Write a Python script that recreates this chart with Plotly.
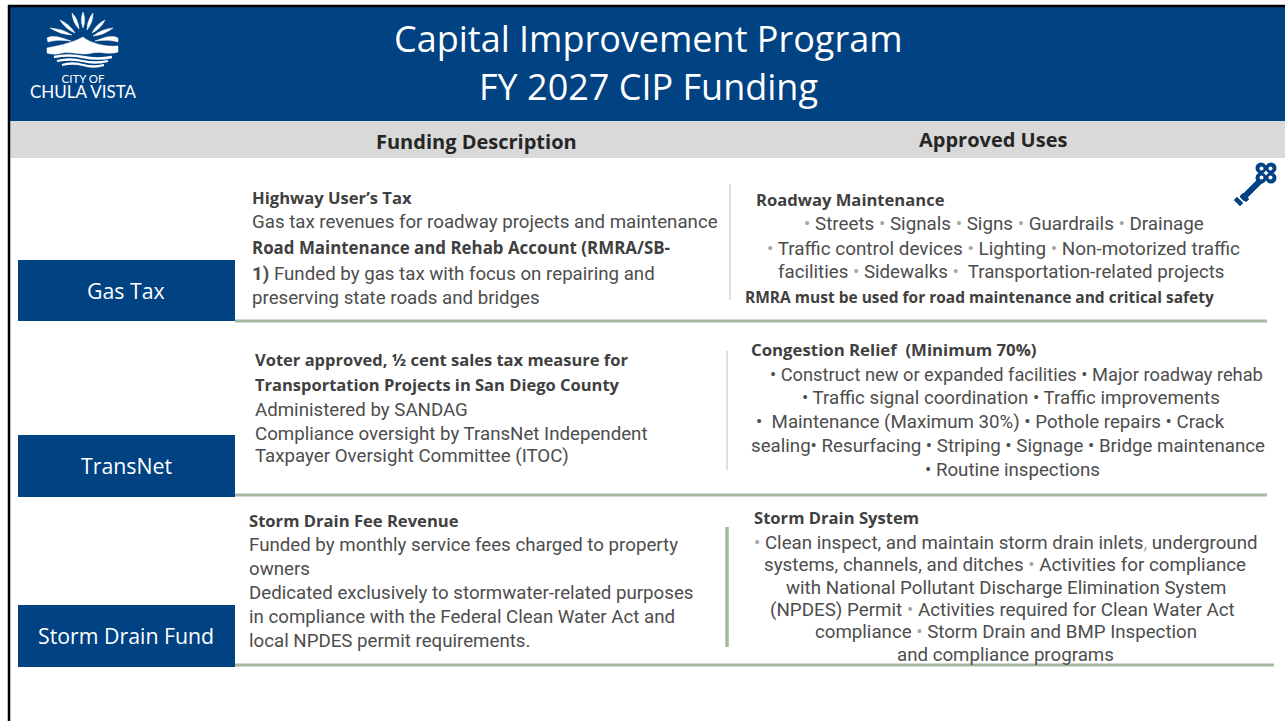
import plotly.graph_objects as go

W, H = 1285, 721
NAVY = "#004282"
GRAY = "#d9d9d9"
SAGE = "#a6b8a0"
TEXT = "#404040"
BODY = "#4d4d4d"
G = "<span style='color:#a6a6a6'>•</span>"

title_lines = ["Capital Improvement Program", "FY 2027 CIP Funding"]
header_labels = ["Funding Description", "Approved Uses"]
fund_names = ["Gas Tax", "TransNet", "Storm Drain Fund"]
logo_words = "CITY OF<br><span style='font-size:17px'>CHULA VISTA</span>"

desc_heads = [
    ("Highway User’s Tax", 252, 197, 16.6),
    ("Road Maintenance and Rehab Account (RMRA/SB-", 252, 247, 16.9),
    ("Voter approved, ½ cent sales tax measure for", 255, 359, 16.5),
    ("Transportation Projects in San Diego County", 255, 384, 16.5),
    ("Storm Drain Fee Revenue", 249, 520, 16.6),
]
desc_lines = [
    ("Gas tax revenues for roadway projects and maintenance", 252, 222),
    ("<b>1)</b> Funded by gas tax with focus on repairing and", 252, 274),
    ("preserving state roads and bridges", 252, 298),
    ("Administered by SANDAG", 255, 410),
    ("Compliance oversight by TransNet Independent", 255, 434),
    ("Taxpayer Oversight Committee (ITOC)", 255, 456),
    ("Funded by monthly service fees charged to property", 249, 545),
    ("owners", 249, 569),
    ("Dedicated exclusively to stormwater-related purposes", 249, 593),
    ("in compliance with the Federal Clean Water Act and", 249, 617),
    ("local NPDES permit requirements.", 249, 641),
]
use_heads = [
    ("Roadway Maintenance", 756, 199, 16.6),
    ("RMRA must be used for road maintenance and critical safety", 745, 296.5, 15.5),
    ("Congestion Relief  (Minimum 70%)", 751, 349, 16.8),
    ("Storm Drain System", 754, 517, 16.6),
]
use_lines = [
    (f"{G} Streets {G} Signals {G} Signs {G} Guardrails {G} Drainage", 1003.5, 224, 18.8),
    (f"{G} Traffic control devices {G} Lighting {G} Non-motorized traffic", 1003.5, 248, 18.9),
    (f"facilities {G} Sidewalks {G}  Transportation-related projects", 1001, 272, 18.7),
    ("• Construct new or expanded facilities • Major roadway rehab", 1016, 374, 18.3),
    ("• Traffic signal coordination • Traffic improvements", 1011, 398, 18.7),
    ("•  Maintenance (Maximum 30%) • Pothole repairs • Crack", 990, 422, 18.7),
    ("sealing• Resurfacing • Striping • Signage • Bridge maintenance", 1008, 446, 18.7),
    ("• Routine inspections", 1012.5, 470, 18.7),
    (f"{G} Clean inspect, and maintain storm drain inlets<span style='color:#a6a6a6'>,</span> underground", 1006, 543, 18.7),
    (f"systems, channels, and ditches {G} Activities for compliance", 1004.5, 565, 18.8),
    ("with National Pollutant Discharge Elimination System", 1006, 588, 18.7),
    (f"(NPDES) Permit {G} Activities required for Clean Water Act", 1002, 610, 18.8),
    (f"compliance {G} Storm Drain and BMP Inspection", 1006, 632, 18.7),
    ("and compliance programs", 1005.5, 655, 18.7),
]

shapes = []
annots = []

def rect(x0, y0, x1, y1, color):
    shapes.append(dict(type="rect", x0=x0, y0=y0, x1=x1, y1=y1,
                       fillcolor=color, line_width=0, layer="below"))

def line(x0, y0, x1, y1, color, w):
    shapes.append(dict(type="line", x0=x0, y0=y0, x1=x1, y1=y1,
                       line=dict(color=color, width=w), layer="below"))

def text(s, x, y, size, color=TEXT, anchor="left", family="Open Sans"):
    annots.append(dict(text=s, x=x, y=y, xref="x", yref="y", xanchor=anchor,
                       yanchor="middle", showarrow=False,
                       font=dict(size=size, color=color, family=family),
                       borderpad=0, borderwidth=0))

def path(d, fill="white", line_color=None, w=0):
    shapes.append(dict(type="path", path=d, fillcolor=fill,
                       line=dict(color=line_color or fill, width=w)))

# frame and bands
rect(10, 7, W, 121, NAVY)
rect(10, 121, W, 158, GRAY)
line(9, 5, 9, H, "#000000", 2.5)
line(8, 6, W, 6, "#000000", 2.5)

for s, cx, cy in zip(title_lines, [648, 648], [38.5, 86.5]):
    text(s, cx, cy, 36, "white", "center")
for s, cx, cy in zip(header_labels, [476, 993], [141, 139]):
    text(f"<b>{s}</b>", cx, cy, 20, "#262626", "center")

# fund boxes
for name, y0, y1 in zip(fund_names, [260, 435, 605], [321, 497, 667]):
    rect(18, y0, 235, y1, NAVY)
    text(name, 126, (y0 + y1) / 2 - 0.5, 21.3, "white", "center")

# rules
for y, x1 in zip([321, 495, 665], [1267, 1267, 1274]):
    line(235, y, x1, y, SAGE, 3)
line(730, 184, 730, 300, "#c3cfbf", 1.2)
line(727, 351, 727, 470, "#c3cfbf", 1.2)
line(727, 527, 727, 647, SAGE, 3.5)

# text
for s, x, y, size in desc_heads:
    text(f"<b>{s}</b>", x, y, size)
for s, x, y in desc_lines:
    text(s, x, y, 18.7, BODY, family="Roboto")
for s, x, y, size in use_heads:
    text(f"<b>{s}</b>", x, y, size)
for s, x, y, size in use_lines:
    text(s, x, y, size, BODY, "center", "Roboto")

# logo: sun rays (start, end, bulge)
ray_ends = [(50, 28, 72, 35), (60, 20, 75, 33), (72, 13, 79, 29), (83, 12, 83, 28),
            (93, 13, 87, 30), (105, 20, 92, 33), (113, 28, 93, 36)]
for x0, y0, x1, y1 in ray_ends:
    mx, my = (x0 + x1) / 2, (y0 + y1) / 2
    dx, dy = x1 - x0, y1 - y0
    L = (dx * dx + dy * dy) ** 0.5
    nx, ny = -dy / L * 3.2, dx / L * 3.2
    path(f"M{x0},{y0} Q{mx+nx:.1f},{my+ny:.1f} {x1},{y1} "
         f"Q{mx-nx:.1f},{my-ny:.1f} {x0},{y0} Z", w=0.5)
# logo: side bands, hill, waves
path("M47,38 C53,35 60,37 71,41 C62,40 54,40 48,42 Z", w=0.5)
path("M118,38 C112,35 105,37 95,41 C104,40 112,40 118,42 Z", w=0.5)
path("M47,48 C56,46 70,44 83,37 C90,43 104,47 118,46 L118,52 C110,55 100,51 92,53 "
     "C82,56 72,51 62,53 C56,55 50,54 47,53 Z", w=0.5)
for y, xa, xb in zip([57, 61, 65], [54, 57, 62], [112, 108, 104]):
    xm = (xa + xb) / 2
    q = (xb - xa) / 4
    path(f"M{xa},{y} Q{xa+q},{y-3} {xm},{y} T{xb},{y}", fill="rgba(0,0,0,0)",
         line_color="white", w=2.3)
text(logo_words, 83.5, 87, 11.5, "white", "center", "Lato")

# key
path("M1240,197 L1260,177 L1264,181 L1244,201 Z", fill=NAVY, w=0.5)
path("M1243,193 L1249,199 L1246,202 L1240,196 Z M1237,197 L1243,203 L1240,206 L1234,200 Z", fill=NAVY, w=0.5)
for dx, dy in [(-5, -5), (5, -5), (-5, 5), (5, 5)]:
    x0, y0 = 1266 + dx, 173 + dy
    shapes.append(dict(type="circle", x0=x0-5.5, y0=y0-5.5, x1=x0+5.5, y1=y0+5.5,
                       fillcolor=NAVY, line_width=0))
for dx, dy in [(-4.5, -4.5), (4.5, -4.5), (-4.5, 4.5), (4.5, 4.5)]:
    x0, y0 = 1266 + dx, 173 + dy
    shapes.append(dict(type="circle", x0=x0-2, y0=y0-2, x1=x0+2, y1=y0+2,
                       fillcolor="white", line_width=0))

fig = go.Figure()
fig.update_layout(
    width=W, height=H, margin=dict(l=0, r=0, t=0, b=0, pad=0),
    paper_bgcolor="white", plot_bgcolor="white", showlegend=False,
    xaxis=dict(range=[0, W], visible=False, fixedrange=True),
    yaxis=dict(range=[H, 0], visible=False, fixedrange=True),
    shapes=shapes, annotations=annots,
)
fig.write_html("out.html", config=dict(displayModeBar=False),
               post_script="document.body.style.margin='0';document.documentElement.style.overflow='hidden';")
